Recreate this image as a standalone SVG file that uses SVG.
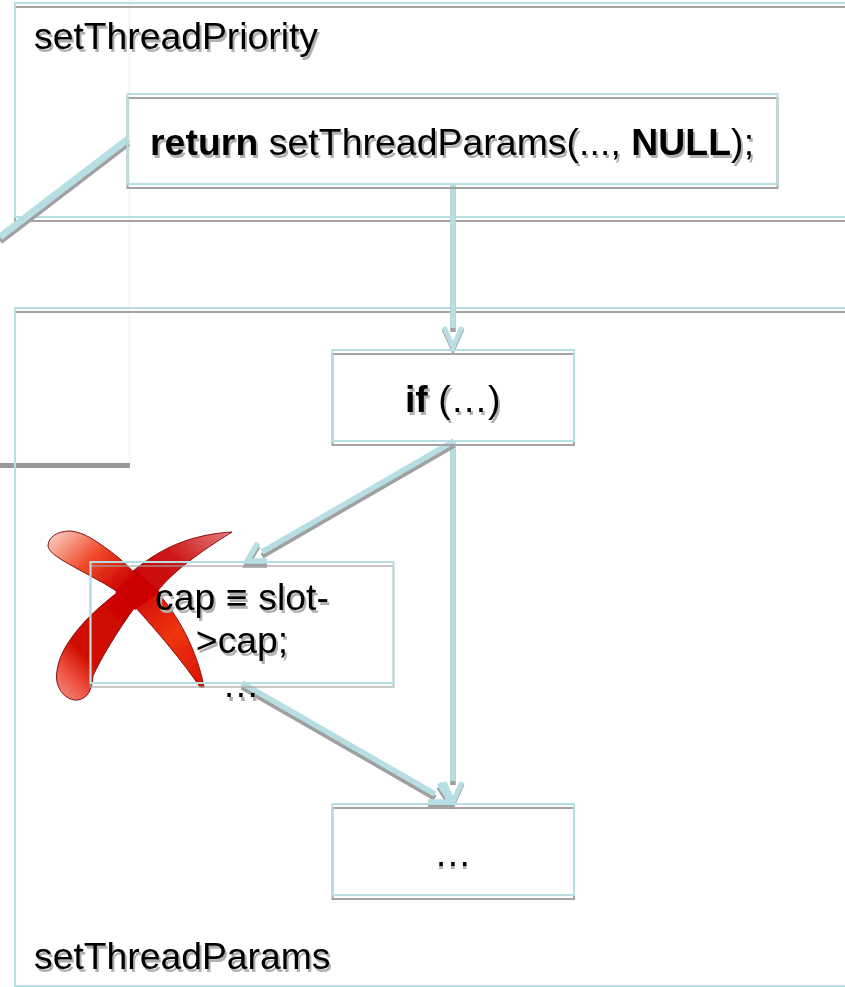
<svg xmlns="http://www.w3.org/2000/svg" width="845" height="987" viewBox="0 0 845 987">
<defs>
<style>
text{font-family:"Liberation Sans",Arial,sans-serif}
.t{font-size:37.3px}
.k{fill:#000}
.s{fill:#b0b0b0}
.b{font-weight:700}
.tb{fill:none;stroke:#b7dee2;stroke-width:2}
.gb{fill:none;stroke:#a3a3a3;stroke-width:2}
.c{fill:none;stroke:#b7dee2;stroke-width:5.500}
.g{fill:none;stroke:#a0a0a0;stroke-width:5.500}
.h{fill:none;stroke:#b7dee2;stroke-width:5}
.j{fill:none;stroke:#a0a0a0;stroke-width:5}
</style>
<filter id="soft" x="0" y="0" width="845" height="987" filterUnits="userSpaceOnUse" primitiveUnits="userSpaceOnUse"><feGaussianBlur stdDeviation="0.4"/></filter>
<linearGradient id="x1" gradientUnits="userSpaceOnUse" x1="50" y1="530" x2="205" y2="690">
<stop offset="0" stop-color="#fcd8d0"/><stop offset=".22" stop-color="#f04a2a"/><stop offset=".42" stop-color="#cc0000"/><stop offset=".72" stop-color="#ee3510"/><stop offset="1" stop-color="#d81000"/>
</linearGradient>
<linearGradient id="x2" gradientUnits="userSpaceOnUse" x1="232" y1="530" x2="60" y2="700">
<stop offset="0" stop-color="#e88080"/><stop offset=".25" stop-color="#cc1818"/><stop offset=".45" stop-color="#cc0000"/><stop offset=".8" stop-color="#d01000"/><stop offset=".9" stop-color="#ee5040"/><stop offset="1" stop-color="#f09080"/>
</linearGradient>
</defs>
<rect width="845" height="987" fill="#fff"/>
<g id="diagram" filter="url(#soft)">
<g id="backdrop">
<path d="M129.500 0V465" fill="none" stroke="#f4f4f4" stroke-width="1.500"/>
<path d="M0 465.500H130" fill="none" stroke="#999" stroke-width="5"/>
</g>
<g id="setThreadPriority">
<rect class="gb" x="15" y="7" width="840" height="214"/>
<rect class="tb" x="15" y="3" width="840" height="214"/>
<text class="t s" x="36" y="52">setThreadPriority</text>
<text class="t k" x="34" y="49">setThreadPriority</text>
</g>
<g id="setThreadParams">
<rect class="gb" x="15" y="312" width="840" height="678"/>
<rect class="tb" x="15" y="308" width="840" height="678"/>
<text class="t s" x="36" y="972">setThreadParams</text>
<text class="t k" x="34" y="969">setThreadParams</text>
</g>
<g id="connectors">
<path class="g" style="stroke-width:7" d="M128 143L0 241"/>
<path class="c" style="stroke-width:7" d="M128 139L0 237"/>
<path class="g" d="M453 185V332"/>
<path class="c" d="M453 185V328"/>
<path class="g" d="M453 443V785"/>
<path class="c" d="M453 441V781"/>
<path class="g" d="M454 445L262 556"/>
<path class="c" d="M454 441L262 552"/>
<path class="g" d="M242 687L435 798"/>
<path class="c" d="M242 683L435 794"/>
<path class="j" d="M444 329L453 349L462 329"/>
<path class="h" d="M444 327L453 347L462 327"/>
<path class="j" d="M444 784L453 804L462 784"/>
<path class="h" d="M444 782L453 802L462 782"/>
<path class="g" d="M439 787L451 806H428"/>
<path class="c" d="M439 783L451 802H428"/>
<path class="g" d="M258 546L247 565H267"/>
<path class="c" d="M258 543L247 561H267"/>
</g>
<g id="return">
<rect class="gb" x="127.500" y="98" width="650" height="90"/>
<rect class="tb" x="127.500" y="94" width="650" height="90"/>
<text class="s" x="152" y="158" font-size="37.300" textLength="604"><tspan class="b">return</tspan> setThreadParams(..., <tspan class="b">NULL</tspan>);</text>
<text class="k" x="150" y="155" font-size="37.300" textLength="604"><tspan class="b">return</tspan> setThreadParams(..., <tspan class="b">NULL</tspan>);</text>
</g>
<g id="if">
<rect class="gb" x="332.500" y="354" width="241.500" height="91"/>
<rect class="tb" x="332.500" y="350" width="241.500" height="91"/>
<text class="s" x="407" y="415" font-size="37.300"><tspan class="b">if</tspan> (…)</text>
<text class="k" x="405" y="412" font-size="37.300"><tspan class="b">if</tspan> (…)</text>
</g>
<g id="cross">
<path d="M232 532C212 533 188 538 168 548C150 557 138 567 124 578L118 592C100 606 82 622 70 640C59 655 55 672 57 682C60 695 70 701 78 700C88 698 92 690 93 676C100 660 118 630 135 607L157 592C172 572 200 552 232 532Z" fill="url(#x2)" stroke="#8a0f0f" stroke-width="1"/>
<path d="M48 546C48 537 58 531 70 531C84 532 96 541 110 551C122 560 130 568 138 577L157 592C178 615 197 650 204 687L200 687C183 662 158 632 135 607L118 592C100 580 80 571 62 560C54 555 49 551 48 546Z" fill="url(#x1)" stroke="#8a0f0f" stroke-width="1"/>
<path d="M138 575L160 592L135 610L115 592Z" fill="#cc0000"/>
</g>
<g id="cap">
<text class="s" font-size="37.300" x="157" y="613" textLength="174">cap ≡ slot-</text>
<text class="k" font-size="37.300" x="155" y="610" textLength="174">cap ≡ slot-</text>
<text class="t s" x="244" y="656" text-anchor="middle">&gt;cap;</text>
<text class="t k" x="242" y="653" text-anchor="middle">&gt;cap;</text>
<text class="t s" x="243" y="701" text-anchor="middle">…</text>
<text class="t k" x="241" y="697" text-anchor="middle">…</text>
<rect class="gb" style="opacity:.6" x="90.500" y="566" width="303" height="121"/>
<rect class="tb" x="90.500" y="562" width="303" height="121"/>
</g>
<g id="end">
<rect class="gb" x="332.500" y="808" width="241.500" height="91"/>
<rect class="tb" x="332.500" y="804" width="241.500" height="91"/>
<text class="t s" x="453" y="869" text-anchor="middle">…</text>
<text class="t k" x="453" y="866" text-anchor="middle">…</text>
</g>
</g>
</svg>
